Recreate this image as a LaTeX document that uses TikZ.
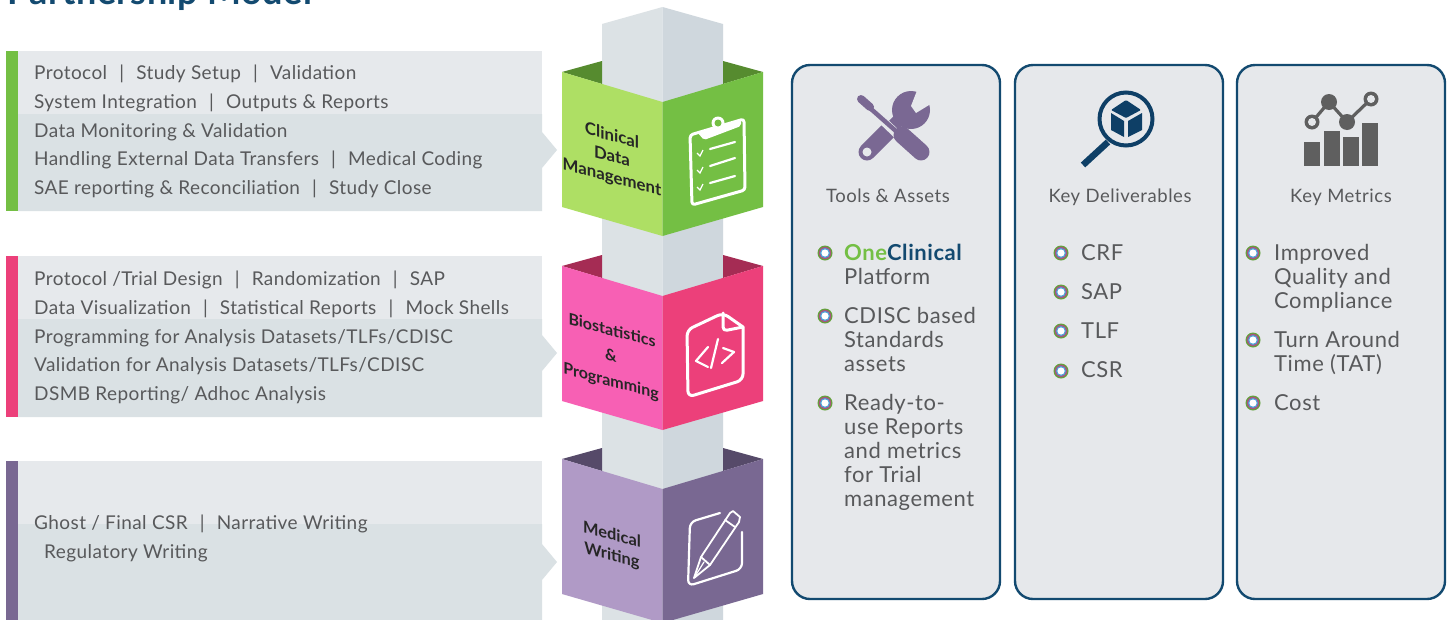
\documentclass[tikz,border=0pt]{standalone}
\usepackage{fontspec}
\setmainfont{Lato}
\newfontfamily\bodyfont[LetterSpace=2.2]{Lato}
\newfontfamily\cardfont[LetterSpace=3.0]{Lato}
\newfontfamily\itemfont[LetterSpace=2.6]{Lato}
\newfontfamily\boxfont{Lato}
\newfontfamily\titlefont[LetterSpace=1.5]{Lato}
\definecolor{ink}{HTML}{58595B}
\definecolor{navy}{HTML}{134A70}
\definecolor{deepnavy}{HTML}{0E3F66}
\definecolor{panelA}{HTML}{E6E9EC}
\definecolor{panelB}{HTML}{DAE1E4}
\definecolor{cardbg}{HTML}{E6E8EB}
\definecolor{colL}{HTML}{DCE2E5}
\definecolor{colR}{HTML}{CFD7DD}
\definecolor{grnL}{HTML}{AEDF64}
\definecolor{grnR}{HTML}{74BF44}
\definecolor{grnD}{HTML}{568B2F}
\definecolor{pnkL}{HTML}{F760B4}
\definecolor{pnkR}{HTML}{EC407A}
\definecolor{pnkD}{HTML}{A52C54}
\definecolor{purL}{HTML}{B09AC6}
\definecolor{purR}{HTML}{796892}
\definecolor{purD}{HTML}{564A69}
\definecolor{toolc}{HTML}{7A6893}
\definecolor{metric}{HTML}{5F5F5F}
\definecolor{dotblue}{HTML}{4FA3D9}
\definecolor{dotpink}{HTML}{A8557F}
\newcommand{\sepbar}{\hspace{0.64em}|\hspace{0.64em}}
\newcommand{\bulletdot}[2]{%
  \fill[grnR!85!black] (#1,#2) circle[radius=7.5];
  \fill[dotpink] (#1,#2) circle[radius=6.2];
  \fill[dotblue] (#1,#2) circle[radius=5];
  \fill[white] (#1,#2) circle[radius=3.6];}
\newcommand{\panelset}[5]{% y top, y split, y bottom, arrow tip y, colour
  \fill[panelA] (18,#1) rectangle (542,#2);
  \fill[panelB] (18,#2) -- (542,#2) -- (542,#4-18) -- (557,#4) -- (542,#4+18) -- (542,#3) -- (18,#3) -- cycle;
  \fill[#5] (6,#1) rectangle (18,#3);}
\newcommand{\cubeset}[4]{% y offset, left, right, dark
  \fill[#4] (562,#1+72) -- (602,#1+61) -- (602,#1+84) -- cycle;
  \fill[#4] (763,#1+72) -- (723,#1+61) -- (723,#1+84) -- cycle;
  \fill[#2] (562,#1+72) -- (662.5,#1+102) -- (662.5,#1+236) -- (562,#1+207) -- cycle;
  \fill[#3] (763,#1+72) -- (662.5,#1+102) -- (662.5,#1+236) -- (763,#1+207) -- cycle;}
\tikzset{
  x=1pt,y=-1pt,
  lbl/.style={anchor=base west,inner sep=0pt,text=ink,font=\bodyfont\fontsize{19}{19}\selectfont},
  cardhead/.style={anchor=base,inner sep=0pt,text=ink,font=\cardfont\fontsize{18.5}{18.5}\selectfont},
  item/.style={anchor=base west,inner sep=0pt,text=ink,font=\itemfont\fontsize{22}{22}\selectfont},
  boxlbl/.style={inner sep=0pt,yslant=-0.27,text=black!85,font=\boxfont\fontsize{#1}{#1}\selectfont\bfseries},
  boxlbl/.default=16.8,
  card/.style={draw=navy,line width=2.4pt,fill=cardbg,rounded corners=18pt},
  iconline/.style={draw=white,line width=3pt,line cap=round,line join=round},
  iconthin/.style={draw=white,line width=2.2pt,line cap=round,line join=round}
}
\begin{document}
\begin{tikzpicture}
\useasboundingbox (0,0) rectangle (1451,619);
\clip (0,0) rectangle (1451,619);
\fill[white] (0,0) rectangle (1451,619);
% title
\node[anchor=base west,inner sep=0pt,text=navy,font=\titlefont\fontsize{36}{36}\selectfont\bfseries] (title) at (7,4) {Partnership Model};
% left panels
\panelset{51}{114}{211}{150}{grnR}
\panelset{256}{319}{417}{353}{pnkR}
\panelset{461}{524}{625}{562}{purR}
% column
\fill[colL] (602,24) -- (662.5,7) -- (662.5,625) -- (602,625) -- cycle;
\fill[colR] (723,24) -- (662.5,7) -- (662.5,625) -- (723,625) -- cycle;
% cubes
\cubeset{0}{grnL}{grnR}{grnD}
\cubeset{194}{pnkL}{pnkR}{pnkD}
\cubeset{387}{purL}{purR}{purD}
% cube labels
\node[boxlbl] (c1a) at (612,135) {Clinical};
\node[boxlbl] (c1b) at (612,156) {Data};
\node[boxlbl] (c1c) at (612,178) {Management};
\node[boxlbl=16] (c2a) at (612,330) {Biostatistics};
\node[boxlbl=16] (c2b) at (611,355) {\&};
\node[boxlbl=16] (c2c) at (611,382) {Programming};
\node[boxlbl=16.4] (c3a) at (612,534) {Medical};
\node[boxlbl=16.4] (c3b) at (612,556) {Writing};
% left text
\node[lbl] (a1) at (34,79) {Protocol\sepbar Study Setup\sepbar Validation};
\node[lbl] (a2) at (34,108) {System Integration\sepbar Outputs \& Reports};
\node[lbl] (a3) at (34,137) {Data Monitoring \& Validation};
\node[lbl] (a4) at (34,165) {Handling External Data Transfers\sepbar Medical Coding};
\node[lbl] (a5) at (34,194) {SAE reporting \& Reconciliation\sepbar Study Close};
\node[lbl] (b1) at (34,285) {Protocol /Trial Design\sepbar Randomization\sepbar SAP};
\node[lbl] (b2) at (34,314) {Data Visualization\sepbar Statistical Reports\sepbar Mock Shells};
\node[lbl] (b3) at (34,343) {Programming for Analysis Datasets/TLFs/CDISC};
\node[lbl] (b4) at (34,371) {Validation for Analysis Datasets/TLFs/CDISC};
\node[lbl] (b5) at (34,400) {DSMB Reporting/ Adhoc Analysis};
\node[lbl] (d1) at (34,529) {Ghost / Final CSR\sepbar Narrative Writing};
\node[lbl] (d2) at (44,558) {Regulatory Writing};
% clipboard icon
\draw[iconline,rounded corners=3pt] (690,135) -- (744,119) -- (745,190) -- (692,205) -- cycle;
\fill[white,rounded corners=2pt] (697,132) -- (741,120) -- (741,126) -- (704,140) -- cycle;
\fill[white] (718,123) circle[radius=6.5];
\fill[grnR] (718,123) circle[radius=3.5];
\draw[iconthin] (710,149) -- (735,142);
\draw[iconthin] (710,166) -- (735,158);
\draw[iconthin] (710,183) -- (735,176);
\foreach \cy in {153,170,187}{
  \draw[white,line width=1.3pt] (697,\cy) -- (700,\cy+3) -- (703,\cy-3);}
% document icon
\draw[iconline,rounded corners=6pt] (687,330) -- (723,313) [sharp corners] -- (743,327) [rounded corners=6pt] -- (743,380) -- (688,397) -- cycle;
\draw[iconline,rounded corners=4pt] (723,313) -- (723,331) -- (743,327);
\draw[iconthin] (708,347) -- (696,361) -- (708,367);
\draw[iconthin] (718,339) -- (711,368);
\draw[iconthin] (723,348) -- (734,352) -- (722,363);
% pen icon
\draw[iconthin,rounded corners=6pt] (720,513) -- (690,522) -- (688,586) -- (742,569) -- (742,532);
\draw[iconthin,line width=1.8pt,fill=purR] (694,578) -- (701,557) -- (730,513) -- (733,511) -- (740,517) -- (739,522) -- (710,565) -- cycle;
\draw[iconthin,line width=1.8pt] (701,557) -- (710,565);
\draw[iconthin,line width=1.8pt] (725,520) -- (735,527);
\draw[iconthin,line width=1.2pt] (694,578) -- (704,562);
% cards
\draw[card] (792,65) rectangle (1000,599);
\draw[card] (1015,65) rectangle (1223,599);
\draw[card] (1237,65) rectangle (1445,599);
% tools icon
\draw[toolc,line width=17pt,line cap=round] (867,152) -- (889,130);
\draw[toolc,line width=13pt] (886,133) -- (903,116);
\fill[toolc] (911,110) circle[radius=19];
\fill[cardbg] (918,88) -- (911,106) -- (916,113) -- (934,102) -- (934,88) -- cycle;
\draw[cardbg,line width=8.5pt] (858,97) -- (902,139);
\fill[cardbg] (867,152) circle[radius=4.5];
\draw[toolc,line width=17pt,line cap=round] (902,135) -- (921,152);
\draw[toolc,line width=4.5pt] (862,101) -- (897,132);
\draw[toolc,line width=8pt,line cap=round] (861,99) -- (870,107);
% magnifier icon
\draw[deepnavy,line width=4pt] (1126,119) circle[radius=26.5];
\draw[deepnavy,line width=6.5pt] (1108,142) -- (1083,165);
\fill[deepnavy,rounded corners=1pt] (1126,100) -- (1141,110) -- (1126,118) -- (1111,110) -- cycle;
\fill[deepnavy] (1111,113) -- (1124,121) -- (1124,137) -- (1111,130) -- cycle;
\fill[deepnavy] (1128,121) -- (1142,113) -- (1142,130) -- (1128,137) -- cycle;
% metrics icon
\fill[metric] (1304,142) rectangle (1320,166);
\fill[metric] (1324,131) rectangle (1340,166);
\fill[metric] (1343,137) rectangle (1359,166);
\fill[metric] (1362,123) rectangle (1378,166);
\draw[metric,line width=3.2pt] (1312,122) -- (1329,102) -- (1347,122) -- (1371,99);
\fill[metric] (1329,102) circle[radius=8];
\fill[metric] (1347,122) circle[radius=8];
\fill[metric] (1312,122) circle[radius=7.5];
\fill[metric] (1371,99) circle[radius=7.5];
\fill[cardbg] (1312,122) circle[radius=4];
\fill[cardbg] (1371,99) circle[radius=4];
% card headings
\node[cardhead] (h1) at (888,202) {Tools \& Assets};
\node[cardhead] (h2) at (1120,202) {Key Deliverables};
\node[cardhead] (h3) at (1341,202) {Key Metrics};
% bullets
\bulletdot{825}{253}\bulletdot{825}{316}\bulletdot{825}{403}
\bulletdot{1061}{253}\bulletdot{1061}{292}\bulletdot{1061}{331}\bulletdot{1061}{371}
\bulletdot{1253}{253}\bulletdot{1253}{340}\bulletdot{1253}{403}
% items
\node[item] (t1) at (844,260) {\textbf{\textcolor{grnR}{One}\textcolor{navy}{Clinical}}};
\node[item] (t2) at (844,284) {Platform};
\node[item] (t3) at (844,323) {CDISC based};
\node[item] (t4) at (844,347) {Standards};
\node[item] (t5) at (844,371) {assets};
\node[item] (t6) at (844,410) {Ready-to-};
\node[item] (t7) at (844,434) {use Reports};
\node[item] (t8) at (844,458) {and metrics};
\node[item] (t9) at (844,482) {for Trial};
\node[item] (t10) at (844,506) {management};
\node[item] (k1) at (1081,260) {CRF};
\node[item] (k2) at (1081,299) {SAP};
\node[item] (k3) at (1081,338) {TLF};
\node[item] (k4) at (1081,377) {CSR};
\node[item] (m1) at (1274,260) {Improved};
\node[item] (m2) at (1274,284) {Quality and};
\node[item] (m3) at (1274,308) {Compliance};
\node[item] (m4) at (1274,347) {Turn Around};
\node[item] (m5) at (1274,371) {Time (TAT)};
\node[item] (m6) at (1274,410) {Cost};
\end{tikzpicture}
\end{document}
